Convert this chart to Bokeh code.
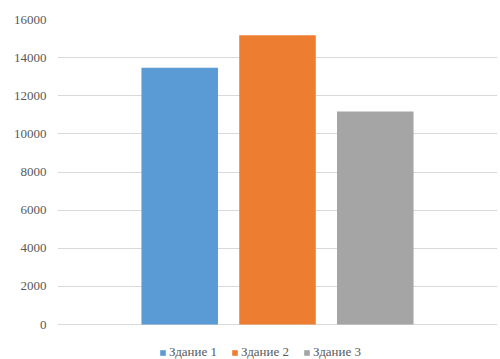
from bokeh.plotting import figure
from bokeh.models import ColumnDataSource, FactorRange, Range1d, Legend, LegendItem, FixedTicker
from bokeh.embed import file_html
from bokeh.resources import INLINE

# Building names and their values
buildings = ["Здание 1", "Здание 2", "Здание 3"]
values = [13470, 15170, 11180]
colors = ["#5B9BD5", "#ED7D31", "#A5A5A5"]
y_ticks = [0, 2000, 4000, 6000, 8000, 10000, 12000, 14000, 16000]

FONT = "Times New Roman"
TEXT_COLOR = "#595959"
GRID_COLOR = "#D9D9D9"

source = ColumnDataSource(dict(name=buildings, value=values, color=colors))

# The frame runs down to the bottom edge so the legend can sit under the zero line
p = figure(
    width=500, height=359,
    x_range=FactorRange(factors=buildings, range_padding=0.5, range_padding_units="percent"),
    y_range=Range1d(-1836, 16000),
    output_backend="svg", toolbar_location=None,
    min_border_left=57, min_border_right=3, min_border_top=19, min_border_bottom=0,
)

r = p.vbar(x="name", top="value", bottom=0, width=0.783, fill_color="color", line_color=None, source=source)

p.xaxis.visible = False
p.xgrid.grid_line_color = None
p.outline_line_color = None
p.background_fill_color = "white"
p.border_fill_color = "white"

p.yaxis.ticker = FixedTicker(ticks=y_ticks)
p.yaxis.axis_line_color = None
p.yaxis.major_tick_line_color = None
p.yaxis.minor_tick_line_color = None
p.yaxis.major_tick_out = 0
p.yaxis.major_label_standoff = 11
p.yaxis.major_label_text_font = FONT
p.yaxis.major_label_text_font_size = "13px"
p.yaxis.major_label_text_color = TEXT_COLOR
p.ygrid.grid_line_color = GRID_COLOR
p.ygrid.grid_line_width = 1

# Horizontal legend under the bars
items = [LegendItem(label=b, renderers=[r], index=i) for i, b in enumerate(buildings)]
legend = Legend(
    items=items, orientation="horizontal",
    location=(102, -1),
    glyph_width=7, glyph_height=7, label_standoff=3, spacing=14,
    label_height=14, label_width=20, padding=0, margin=0,
    label_text_font=FONT, label_text_font_size="13px", label_text_color=TEXT_COLOR,
    border_line_color=None, background_fill_alpha=0,
)
p.add_layout(legend, "center")

open("out.html", "w").write(file_html(p, INLINE))
